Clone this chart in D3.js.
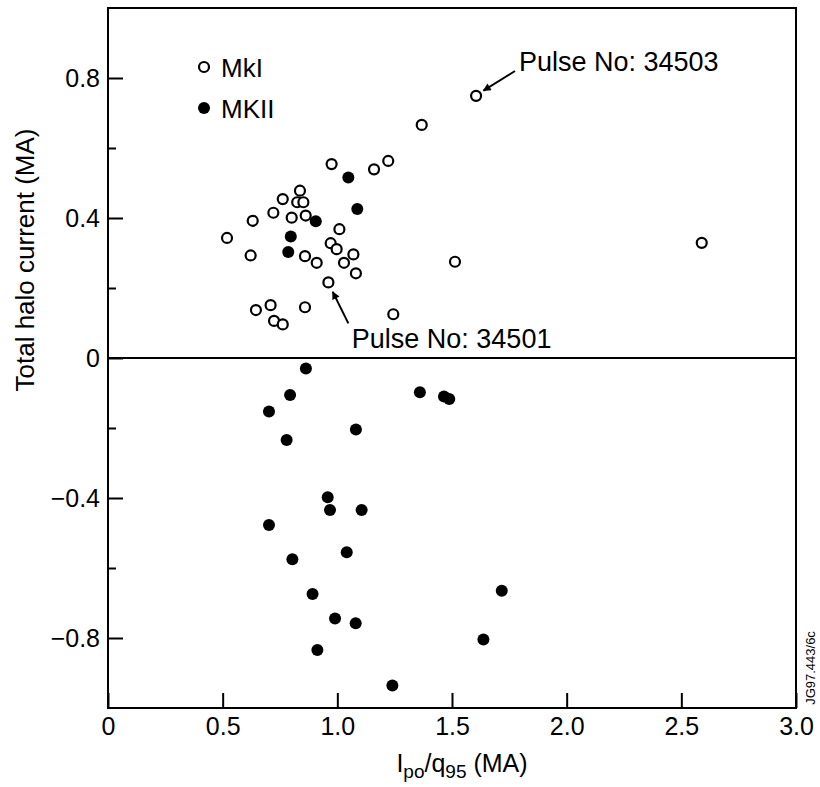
<!DOCTYPE html>
<html><head><meta charset="utf-8">
<script src="https://cdn.jsdelivr.net/npm/d3@7"></script>
<style>
html,body{margin:0;padding:0;background:#fff;}
svg{display:block;font-family:"Liberation Sans",Arial,Helvetica,sans-serif;}
</style></head><body>
<svg id="chart" width="820" height="787"></svg>
<script>
// MkI (open circles)
const mk1X = [0.975,1.160,1.222,0.837,0.762,0.825,0.852,0.721,0.631,0.801,0.862,1.009,0.519,0.971,0.997,0.622,0.859,0.910,1.070,1.029,1.081,0.961,0.645,0.709,0.859,0.724,0.762,1.244,1.513,1.605,1.368,2.589];
const mk1Y = [0.554,0.539,0.563,0.478,0.454,0.445,0.445,0.415,0.392,0.401,0.407,0.368,0.343,0.328,0.311,0.293,0.291,0.272,0.296,0.272,0.242,0.216,0.137,0.151,0.145,0.106,0.096,0.125,0.275,0.749,0.666,0.329];
// MKII (filled circles)
const mk2X = [1.048,1.087,0.906,0.797,0.786,0.863,0.794,0.702,1.081,0.779,1.360,1.465,1.488,0.958,0.968,1.106,0.702,1.041,0.804,0.892,0.990,1.080,0.913,1.240,1.637,1.717];
const mk2Y = [0.516,0.426,0.391,0.347,0.303,-0.030,-0.106,-0.153,-0.204,-0.234,-0.098,-0.110,-0.117,-0.398,-0.434,-0.434,-0.477,-0.555,-0.575,-0.674,-0.744,-0.758,-0.834,-0.936,-0.804,-0.665];

const seriesNames = ["MkI", "MKII"];
const xTicks = [0, 0.5, 1.0, 1.5, 2.0, 2.5, 3.0];
const yMajorTicks = [-0.8, -0.4, 0, 0.4, 0.8];
const yMinorTicks = [-0.6, -0.2, 0.2, 0.6];

// annotations (data units)
const annLabels = ["Pulse No: 34503", "Pulse No: 34501"];
const annTextX = [1.792, 1.063];
const annTextY = [0.821, 0.029];
const annTailX = [1.775, 1.048];
const annTailY = [0.820, 0.099];
const annTipX  = [1.637, 0.980];
const annTipY  = [0.764, 0.189];

const svg = d3.select("#chart");
const x = d3.scaleLinear().domain([0, 3]).range([108, 796]);
const y = d3.scaleLinear().domain([-1, 1]).range([708, 8]);

const fmt = d => d === 0 ? "0" : d3.format(".1f")(d);

svg.append("defs").append("marker")
  .attr("id", "arrow").attr("viewBox", "0 0 10 10")
  .attr("refX", 9).attr("refY", 5)
  .attr("markerWidth", 10).attr("markerHeight", 8)
  .attr("markerUnits", "userSpaceOnUse")
  .attr("orient", "auto")
  .append("path").attr("d", "M0,0 L10,5 L0,10 z").attr("fill", "#000");

// axes
const gx = svg.append("g").attr("transform", `translate(0,${y(-1)})`)
  .call(d3.axisBottom(x).tickValues(xTicks).tickSize(-15).tickPadding(9).tickFormat(fmt));
const gyMaj = svg.append("g").attr("transform", `translate(${x(0)},0)`)
  .call(d3.axisLeft(y).tickValues(yMajorTicks).tickSize(-15).tickPadding(8).tickFormat(fmt));
const gyMin = svg.append("g").attr("transform", `translate(${x(0)},0)`)
  .call(d3.axisLeft(y).tickValues(yMinorTicks).tickSize(-8).tickFormat(""));
[gx, gyMaj, gyMin].forEach(g => {
  g.select(".domain").remove();
  g.attr("font-family", null).attr("font-size", 25);
  g.selectAll("line").attr("stroke", "#000").attr("stroke-width", 2);
  g.selectAll("text").attr("fill", "#000");
});

// frame
svg.append("rect")
  .attr("x", x(0)).attr("y", y(1))
  .attr("width", x(3) - x(0)).attr("height", y(-1) - y(1))
  .attr("fill", "none").attr("stroke", "#000").attr("stroke-width", 2);
// zero line
svg.append("line")
  .attr("x1", x(0)).attr("x2", x(3)).attr("y1", y(0)).attr("y2", y(0))
  .attr("stroke", "#000").attr("stroke-width", 2);

// points
svg.append("g").selectAll("circle").data(d3.range(mk1X.length)).join("circle")
  .attr("cx", i => x(mk1X[i])).attr("cy", i => y(mk1Y[i])).attr("r", 5)
  .attr("fill", "#fff").attr("stroke", "#000").attr("stroke-width", 2.2);
svg.append("g").selectAll("circle").data(d3.range(mk2X.length)).join("circle")
  .attr("cx", i => x(mk2X[i])).attr("cy", i => y(mk2Y[i])).attr("r", 6)
  .attr("fill", "#000");

// legend
const lg = svg.append("g");
lg.append("circle").attr("cx", 204).attr("cy", 67).attr("r", 5)
  .attr("fill", "#fff").attr("stroke", "#000").attr("stroke-width", 2.2);
lg.append("circle").attr("cx", 204).attr("cy", 108).attr("r", 6).attr("fill", "#000");
lg.selectAll("text").data(seriesNames).join("text")
  .attr("x", 221).attr("y", (d, i) => 77 + i * 41)
  .attr("font-size", 26).text(d => d);

// annotations
const ag = svg.append("g");
ag.selectAll("line").data(annLabels).join("line")
  .attr("x1", (d, i) => x(annTailX[i])).attr("y1", (d, i) => y(annTailY[i]))
  .attr("x2", (d, i) => x(annTipX[i])).attr("y2", (d, i) => y(annTipY[i]))
  .attr("stroke", "#000").attr("stroke-width", 2).attr("marker-end", "url(#arrow)");
ag.selectAll("text").data(annLabels).join("text")
  .attr("x", (d, i) => x(annTextX[i])).attr("y", (d, i) => y(annTextY[i]))
  .attr("font-size", 27).text(d => d);

// axis titles
svg.append("text")
  .attr("transform", "translate(34,260) rotate(-90)")
  .attr("text-anchor", "middle").attr("font-size", 26)
  .text("Total halo current (MA)");

const xt = svg.append("text").attr("x", 462).attr("y", 772)
  .attr("text-anchor", "middle").attr("font-size", 25);
xt.append("tspan").text("I");
xt.append("tspan").attr("font-size", 19).attr("dy", 6).text("po");
xt.append("tspan").attr("dy", -6).text("/q");
xt.append("tspan").attr("font-size", 19).attr("dy", 6).text("95");
xt.append("tspan").attr("dy", -6).text(" (MA)");

// figure code
svg.append("text")
  .attr("transform", "translate(815,668) rotate(-90)")
  .attr("text-anchor", "middle").attr("font-size", 13)
  .text("JG97.443/6c");
</script>
</body></html>
